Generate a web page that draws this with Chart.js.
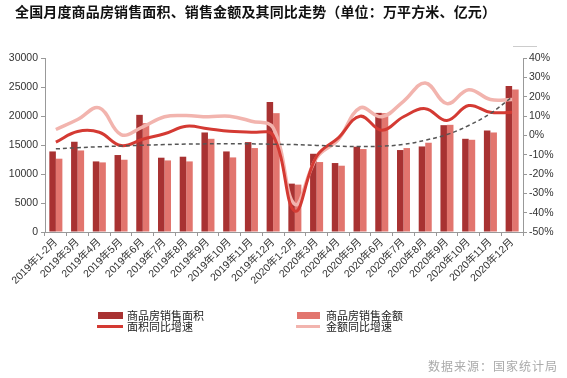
<!DOCTYPE html>
<html>
<head>
<meta charset="utf-8">
<script src="https://cdn.jsdelivr.net/npm/chart.js@4.4.0/dist/chart.umd.min.js"></script>
<style>
    body { margin: 0; background: #fff; }
    #wrap { position: relative; width: 567px; height: 378px; font-family: "Liberation Sans", "Noto Sans CJK SC", sans-serif; }
    #title { position: absolute; left: 15px; top: 1px; font-size: 14px; font-weight: bold; color: #111; font-family: "Noto Sans CJK SC", sans-serif; white-space: nowrap; letter-spacing: 0.15px; }
    .lg { position: absolute; font-size: 11px; line-height: 10px; color: #222; font-family: "Noto Sans CJK SC", sans-serif; white-space: nowrap; }
    .sw { position: absolute; }
    #source { position: absolute; left: 428px; top: 357px; font-size: 12px; letter-spacing: 1px; color: #aaa; font-family: "Noto Sans CJK SC", sans-serif; white-space: nowrap; }
</style>
</head>
<body>
<div id="wrap">
    <canvas id="chart" width="567" height="378"></canvas>
    <div id="title">全国月度商品房销售面积、销售金额及其同比走势（单位：万平方米、亿元）</div>
    <div class="sw" style="left:513px;top:46px;width:24px;height:1px;background:#ccc"></div>
    <div class="sw" style="left:98px;top:312px;width:25px;height:7px;background:#a83232"></div>
    <div class="lg" style="left:127px;top:310px">商品房销售面积</div>
    <div class="sw" style="left:97px;top:325px;width:26px;height:3px;background:#d43a33"></div>
    <div class="lg" style="left:127px;top:321px">面积同比增速</div>
    <div class="sw" style="left:297px;top:312px;width:23px;height:7px;background:#e2756e"></div>
    <div class="lg" style="left:326px;top:310px">商品房销售金额</div>
    <div class="sw" style="left:296px;top:325px;width:24px;height:3px;background:#f2b4ae"></div>
    <div class="lg" style="left:326px;top:321px">金额同比增速</div>
    <div id="source">数据来源：国家统计局</div>
</div>
<script>
    //!data
    var categories = ['2019年1-2月', '2019年3月', '2019年4月', '2019年5月', '2019年6月', '2019年7月', '2019年8月',
        '2019年9月', '2019年10月', '2019年11月', '2019年12月', '2020年1-2月', '2020年3月', '2020年4月', '2020年5月',
        '2020年6月', '2020年7月', '2020年8月', '2020年9月', '2020年10月', '2020年11月', '2020年12月'];
    var areaValues = [13890, 15560, 12170, 13270, 20200, 12810, 12980, 17160, 13890, 15500, 22430,
        8340, 13490, 11890, 14700, 20540, 14130, 14750, 18420, 16070, 17500, 25180];
    var amountValues = [12640, 14060, 12000, 12460, 18770, 12340, 12170, 16070, 12860, 14470, 20490,
        8170, 12060, 11430, 14300, 20490, 14470, 15390, 18480, 15900, 17160, 24550];
    var areaGrowth = [-3.5, 2.0, 1.6, -5.3, -2.0, 0.8, 4.7, 3.4, 2.1, 1.6, -0.1,
        -39.2, -10.8, -1.3, 9.9, 2.6, 9.6, 13.8, 7.7, 15.4, 11.9, 11.9];
    var amountGrowth = [3.0, 8.2, 14.2, 0.4, 4.4, 9.6, 10.2, 9.6, 9.9, 7.3, 3.9,
        -35.7, -11.6, -2.2, 14.2, 9.6, 17.6, 27.1, 16.4, 23.6, 18.5, 18.5];
    var trend = [-7.0, -6.4, -5.9, -5.5, -5.1, -4.8, -4.5, -4.4, -4.3, -4.4, -4.6,
        -4.8, -5.2, -5.6, -5.8, -5.6, -4.7, -2.5, 0.4, 5.1, 11.3, 19.9];
    var leftTicks = [0, 30000, 5000];
    var rightTicks = [-50, 40, 10];

    var tickFont = { family: '"Liberation Sans", "Noto Sans CJK SC", sans-serif', size: 10.5 };

    var ctx = document.getElementById('chart').getContext('2d');
    var chart = new Chart(ctx, {
        type: 'bar',
        data: {
            labels: categories,
            datasets: [
                {
                    type: 'line',
                    label: 'trend',
                    data: trend,
                    yAxisID: 'y2',
                    borderColor: '#555',
                    borderWidth: 1.5,
                    borderDash: [4, 3],
                    pointRadius: 0,
                    tension: 0.4,
                    fill: false,
                    order: 1
                },
                {
                    type: 'line',
                    label: '面积同比增速',
                    data: areaGrowth,
                    yAxisID: 'y2',
                    borderColor: '#d43a33',
                    borderWidth: 3,
                    pointRadius: 0,
                    tension: 0.4,
                    fill: false,
                    order: 2
                },
                {
                    type: 'line',
                    label: '金额同比增速',
                    data: amountGrowth,
                    yAxisID: 'y2',
                    borderColor: '#f2b4ae',
                    borderWidth: 3.5,
                    pointRadius: 0,
                    tension: 0.4,
                    fill: false,
                    order: 3
                },
                {
                    label: '商品房销售面积',
                    data: areaValues,
                    yAxisID: 'y',
                    backgroundColor: '#a83232',
                    categoryPercentage: 0.6,
                    barPercentage: 1.0,
                    order: 4
                },
                {
                    label: '商品房销售金额',
                    data: amountValues,
                    yAxisID: 'y',
                    backgroundColor: '#e2756e',
                    categoryPercentage: 0.6,
                    barPercentage: 1.0,
                    order: 5
                }]
        },
        options: {
            responsive: false,
            animation: false,
            layout: { autoPadding: false, padding: { left: 0, right: 0, top: 58, bottom: 0 } },
            plugins: { legend: { display: false }, tooltip: { enabled: false } },
            scales: {
                x: {
                    grid: { drawOnChartArea: false, tickLength: 4, color: '#999', offset: true },
                    border: { color: '#999' },
                    ticks: { font: tickFont, color: '#333', minRotation: 45, maxRotation: 45, padding: 0, autoSkip: false },
                    afterFit: function (scale) { scale.height = 146; }
                },
                y: {
                    position: 'left',
                    min: leftTicks[0],
                    max: leftTicks[1],
                    ticks: {
                        stepSize: leftTicks[2], font: tickFont, color: '#333', padding: 3,
                        callback: function (v) { return String(v); }
                    },
                    grid: { drawOnChartArea: false, tickLength: 4, color: '#999' },
                    border: { color: '#999' },
                    afterFit: function (scale) { scale.width = 45; }
                },
                y2: {
                    position: 'right',
                    min: rightTicks[0],
                    max: rightTicks[1],
                    ticks: {
                        stepSize: rightTicks[2], font: tickFont, color: '#333', padding: 2,
                        callback: function (v) { return v + '%'; }
                    },
                    grid: { drawOnChartArea: false, tickLength: 4, color: '#999' },
                    border: { color: '#999' },
                    afterFit: function (scale) { scale.width = 44; }
                }
            }
        }
    });
</script>
</body>
</html>
